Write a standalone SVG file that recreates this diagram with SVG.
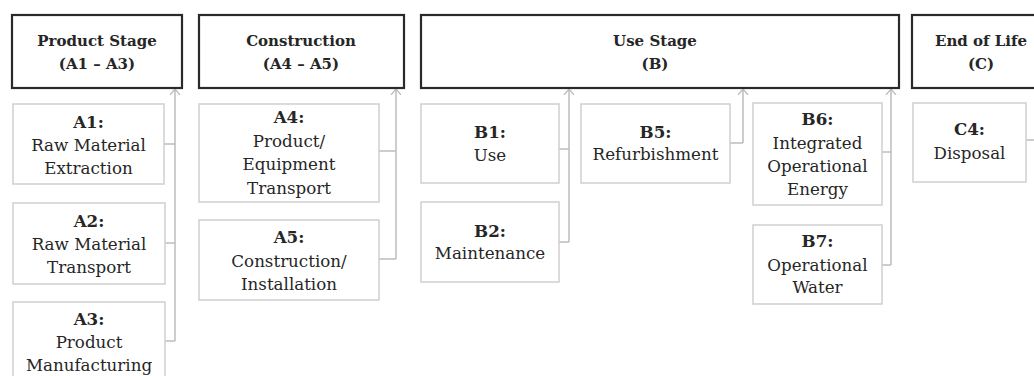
<svg xmlns="http://www.w3.org/2000/svg" width="1034" height="376" viewBox="0 0 1034 376">
<style>
.hdr{fill:#fff;stroke:#2a2a2a;stroke-width:2.2}
.box{fill:#fff;stroke:#cfcfcf;stroke-width:1.5}
.ht{font-family:"DejaVu Serif","Liberation Serif",serif;font-size:15px;font-weight:bold;fill:#262626;text-anchor:middle}
.t{font-family:"DejaVu Serif","Liberation Serif",serif;font-size:16.7px;fill:#262626;text-anchor:middle}
.b{font-weight:bold}
.c{fill:none;stroke:#bdbdbd;stroke-width:1.5}
</style>
<defs>
<marker id="arr" viewBox="0 0 6 12" refX="6" refY="6" markerWidth="6" markerHeight="12" markerUnits="userSpaceOnUse" orient="auto">
<path d="M0,1 L6,6 L0,11" fill="none" stroke="#bdbdbd" stroke-width="1.3"/>
</marker>
</defs>
<g id="connectors">
<path class="c" d="M164,144H175M165,243H175M165,341H175"/>
<path class="c" d="M175,341V89" marker-end="url(#arr)"/>
<path class="c" d="M379,151H396M379,259H396"/>
<path class="c" d="M396,259V89" marker-end="url(#arr)"/>
<path class="c" d="M559,149H569M559,242H569"/>
<path class="c" d="M569,242V89" marker-end="url(#arr)"/>
<path class="c" d="M730,143H743"/>
<path class="c" d="M743,143V89" marker-end="url(#arr)"/>
<path class="c" d="M882,152H891M882,265H891"/>
<path class="c" d="M891,265V89" marker-end="url(#arr)"/>
<path class="c" d="M1026,140H1034"/>
</g>
<g id="product-stage"><rect class="hdr" x="12" y="15" width="170" height="73"/><text class="ht" x="97" y="46">Product Stage</text><text class="ht" x="97" y="69">(A1 – A3)</text></g>
<g id="construction"><rect class="hdr" x="199" y="15" width="205" height="73"/><text class="ht" x="301" y="46">Construction</text><text class="ht" x="301" y="69">(A4 – A5)</text></g>
<g id="use-stage"><rect class="hdr" x="421" y="15" width="478" height="73"/><text class="ht" x="655" y="46">Use Stage</text><text class="ht" x="655" y="69">(B)</text></g>
<g id="end-of-life"><rect class="hdr" x="912" y="15" width="140" height="73"/><text class="ht" x="981" y="46">End of Life</text><text class="ht" x="981" y="69">(C)</text></g>
<g id="a1"><rect class="box" x="13" y="104" width="151" height="80"/><text class="t" x="88.5" y="128"><tspan class="b">A1:</tspan><tspan x="88.5" dy="23">Raw Material</tspan><tspan x="88.5" dy="23">Extraction</tspan></text></g>
<g id="a2"><rect class="box" x="13" y="203" width="152" height="81"/><text class="t" x="89" y="227"><tspan class="b">A2:</tspan><tspan x="89" dy="23">Raw Material</tspan><tspan x="89" dy="23">Transport</tspan></text></g>
<g id="a3"><rect class="box" x="13" y="302" width="152" height="90"/><text class="t" x="89" y="325"><tspan class="b">A3:</tspan><tspan x="89" dy="23">Product</tspan><tspan x="89" dy="23">Manufacturing</tspan></text></g>
<g id="a4"><rect class="box" x="199" y="104" width="180" height="98"/><text class="t" x="289" y="123"><tspan class="b">A4:</tspan><tspan x="289" dy="23.5">Product/</tspan><tspan x="289" dy="23.5">Equipment</tspan><tspan x="289" dy="23.5">Transport</tspan></text></g>
<g id="a5"><rect class="box" x="199" y="220" width="180" height="80"/><text class="t" x="289" y="243"><tspan class="b">A5:</tspan><tspan x="289" dy="23.5">Construction/</tspan><tspan x="289" dy="23.5">Installation</tspan></text></g>
<g id="b1"><rect class="box" x="421" y="104" width="138" height="79"/><text class="t" x="490" y="138"><tspan class="b">B1:</tspan><tspan x="490" dy="23">Use</tspan></text></g>
<g id="b2"><rect class="box" x="421" y="202" width="138" height="80"/><text class="t" x="490" y="237"><tspan class="b">B2:</tspan><tspan x="490" dy="22">Maintenance</tspan></text></g>
<g id="b5"><rect class="box" x="581" y="104" width="149" height="79"/><text class="t" x="655.5" y="138"><tspan class="b">B5:</tspan><tspan x="655.5" dy="22">Refurbishment</tspan></text></g>
<g id="b6"><rect class="box" x="753" y="103" width="129" height="102"/><text class="t" x="817.5" y="125"><tspan class="b">B6:</tspan><tspan x="817.5" dy="23.5">Integrated</tspan><tspan x="817.5" dy="23.5">Operational</tspan><tspan x="817.5" dy="23">Energy</tspan></text></g>
<g id="b7"><rect class="box" x="753" y="225" width="129" height="79"/><text class="t" x="817.5" y="247"><tspan class="b">B7:</tspan><tspan x="817.5" dy="23.5">Operational</tspan><tspan x="817.5" dy="22.5">Water</tspan></text></g>
<g id="c4"><rect class="box" x="913" y="103" width="113" height="79"/><text class="t" x="969.5" y="135"><tspan class="b">C4:</tspan><tspan x="969.5" dy="24">Disposal</tspan></text></g>
</svg>
